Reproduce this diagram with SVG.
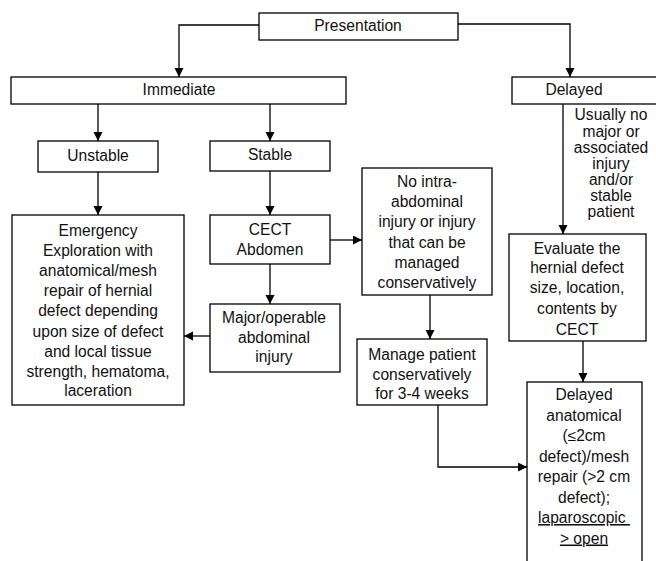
<svg xmlns="http://www.w3.org/2000/svg" width="656" height="561" viewBox="0 0 656 561">
<style>
.box{fill:#fff;stroke:#000;stroke-width:1.3}
text{font-family:"Liberation Sans",Arial,sans-serif;font-size:15.6px;fill:#111;text-anchor:middle}
.c{fill:none;stroke:#000;stroke-width:1.3}
</style>
<defs>
<marker id="ah" markerUnits="userSpaceOnUse" markerWidth="10" markerHeight="10" refX="9" refY="4.5" orient="auto">
<path d="M0,0 L9,4.5 L0,9 z" fill="#000"/>
</marker>
</defs>
<rect width="656" height="561" fill="#fff"/>
<g id="connectors">
<path class="c" d="M259,25 H179 V77" marker-end="url(#ah)"/>
<path class="c" d="M458,24 H570 V77" marker-end="url(#ah)"/>
<path class="c" d="M98,104 V141" marker-end="url(#ah)"/>
<path class="c" d="M270,104 V141" marker-end="url(#ah)"/>
<path class="c" d="M98,172 V215" marker-end="url(#ah)"/>
<path class="c" d="M270,171 V215" marker-end="url(#ah)"/>
<path class="c" d="M270,264 V304" marker-end="url(#ah)"/>
<path class="c" d="M210,336 H184" marker-end="url(#ah)"/>
<path class="c" d="M330,240 H362" marker-end="url(#ah)"/>
<path class="c" d="M430,295 V339" marker-end="url(#ah)"/>
<path class="c" d="M563,104 V234" marker-end="url(#ah)"/>
<path class="c" d="M583,341 V382" marker-end="url(#ah)"/>
<path class="c" d="M438,405 V467 H527" marker-end="url(#ah)"/>
</g>
<g id="presentation">
<rect class="box" x="259" y="13" width="199" height="27"/>
<text x="358" y="31">Presentation</text>
</g>
<g id="immediate">
<rect class="box" x="11" y="77" width="335" height="27"/>
<text x="179" y="95">Immediate</text>
</g>
<g id="delayed">
<rect class="box" x="512" y="77" width="150" height="27"/>
<text x="574" y="95">Delayed</text>
</g>
<g id="delayed-note">
<text x="611" y="120">Usually no</text>
<text x="611" y="136.5">major or</text>
<text x="611" y="153">associated</text>
<text x="611" y="169">injury</text>
<text x="611" y="185">and/or</text>
<text x="611" y="201">stable</text>
<text x="611" y="217">patient</text>
</g>
<g id="unstable">
<rect class="box" x="38" y="141" width="120" height="31"/>
<text x="98" y="161">Unstable</text>
</g>
<g id="stable">
<rect class="box" x="210" y="141" width="120" height="30"/>
<text x="270" y="160">Stable</text>
</g>
<g id="emergency">
<rect class="box" x="12" y="215" width="172" height="190"/>
<text x="98" y="236">Emergency</text>
<text x="98" y="256">Exploration with</text>
<text x="98" y="276">anatomical/mesh</text>
<text x="98" y="296">repair of hernial</text>
<text x="98" y="316">defect depending</text>
<text x="98" y="337">upon size of defect</text>
<text x="98" y="357">and local tissue</text>
<text x="98" y="377">strength, hematoma,</text>
<text x="98" y="396">laceration</text>
</g>
<g id="cect">
<rect class="box" x="210" y="215" width="120" height="49"/>
<text x="270" y="235">CECT</text>
<text x="270" y="255">Abdomen</text>
</g>
<g id="major">
<rect class="box" x="210" y="304" width="130" height="68"/>
<text x="274" y="323">Major/operable</text>
<text x="274" y="343">abdominal</text>
<text x="274" y="362">injury</text>
</g>
<g id="no-intra">
<rect class="box" x="362" y="168" width="130" height="127"/>
<text x="427" y="187">No intra-</text>
<text x="427" y="207">abdominal</text>
<text x="427" y="227">injury or injury</text>
<text x="427" y="248">that can be</text>
<text x="427" y="268">managed</text>
<text x="427" y="288">conservatively</text>
</g>
<g id="manage">
<rect class="box" x="357" y="339" width="130" height="66"/>
<text x="422" y="360">Manage patient</text>
<text x="422" y="380">conservatively</text>
<text x="422" y="399">for 3-4 weeks</text>
</g>
<g id="evaluate">
<rect class="box" x="509" y="234" width="137" height="107"/>
<text x="577" y="254">Evaluate the</text>
<text x="577" y="273">hernial defect</text>
<text x="577" y="293">size, location,</text>
<text x="577" y="314">contents by</text>
<text x="577" y="335">CECT</text>
</g>
<g id="delayed-repair">
<rect class="box" x="527" y="382" width="115" height="190"/>
<text x="584" y="400">Delayed</text>
<text x="584" y="420.5">anatomical</text>
<text x="584" y="441">(≤2cm</text>
<text x="584" y="461.5">defect)/mesh</text>
<text x="584" y="482">repair (&gt;2 cm</text>
<text x="584" y="502.5">defect);</text>
<text x="584" y="523" text-decoration="underline">laparoscopic&#160;</text>
<text x="584" y="543.5" text-decoration="underline">&gt; open</text>
</g>
</svg>
